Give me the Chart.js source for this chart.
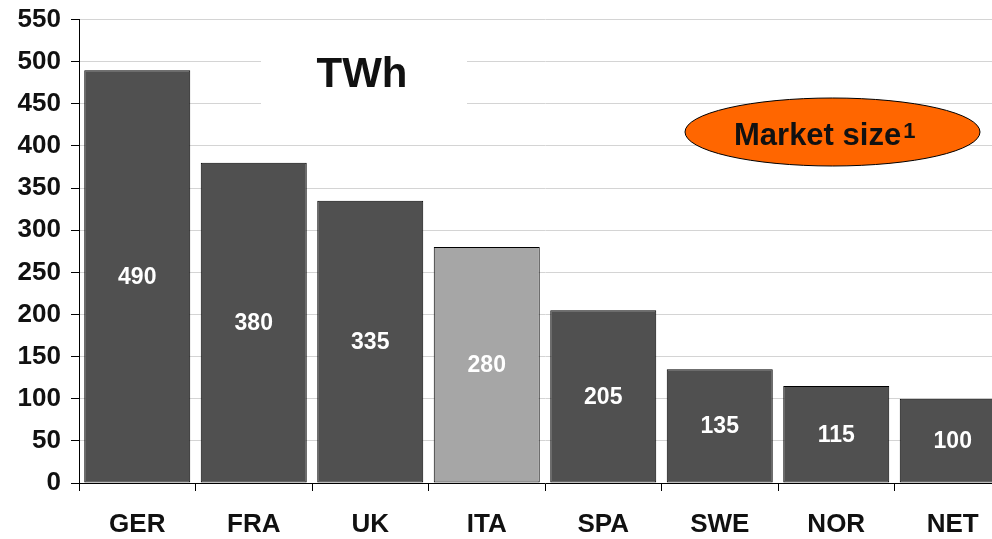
<!DOCTYPE html>
<html>
<head>
<meta charset="utf-8">
<script src="https://cdn.jsdelivr.net/npm/chart.js@4/dist/chart.umd.min.js"></script>
<style>
  html, body { margin: 0; padding: 0; background: #fff; overflow: hidden; }
  #wrap { width: 992px; height: 539px; overflow: hidden; position: relative; }
  canvas { display: block; margin-top: -6px; }
</style>
</head>
<body>
<div id="wrap"><canvas id="c" width="1012" height="545"></canvas></div>
<script>
// Electricity market size by country, TWh
const countries = ['GER', 'FRA', 'UK', 'ITA', 'SPA', 'SWE', 'NOR', 'NET'];
const marketTWh = [490, 380, 335, 280, 205, 135, 115, 100];
const highlighted = 'ITA';

const FONT = '"Liberation Sans", Arial, sans-serif';
const barFill = countries.map(c => c === highlighted ? '#a6a6a6' : '#505050');
const OY = 6; // canvas sits 6px above the visible frame

// White value labels centred in each bar
const valueLabels = {
  id: 'valueLabels',
  afterDatasetsDraw(chart) {
    const ctx = chart.ctx;
    const meta = chart.getDatasetMeta(0);
    ctx.save();
    ctx.fillStyle = '#ffffff';
    ctx.font = 'bold 23px ' + FONT;
    ctx.textAlign = 'center';
    ctx.textBaseline = 'middle';
    meta.data.forEach((bar, i) => {
      const v = chart.data.datasets[0].data[i];
      ctx.fillText(String(v), bar.x, (bar.y + bar.base) / 2 + 1);
    });
    ctx.restore();
  }
};

// Unit caption and the "Market size" badge
const annotations = {
  id: 'annotations',
  beforeDatasetsDraw(chart) {
    const ctx = chart.ctx;
    ctx.save();
    ctx.fillStyle = '#ffffff';
    ctx.fillRect(261, 27 + OY, 206, 88);
    ctx.restore();
  },
  afterDatasetsDraw(chart) {
    const ctx = chart.ctx;
    ctx.save();
    ctx.fillStyle = '#111111';
    ctx.font = 'bold 42px ' + FONT;
    ctx.textAlign = 'center';
    ctx.textBaseline = 'alphabetic';
    ctx.fillText('TWh', 362, 87 + OY);

    ctx.beginPath();
    ctx.ellipse(832.5, 132 + OY, 147.5, 34, 0, 0, Math.PI * 2);
    ctx.fillStyle = '#ff6600';
    ctx.fill();
    ctx.lineWidth = 1;
    ctx.strokeStyle = '#000000';
    ctx.stroke();

    ctx.fillStyle = '#111111';
    ctx.textAlign = 'left';
    ctx.font = 'bold 31px ' + FONT;
    const main = 'Market size';
    ctx.fillText(main, 734, 145 + OY);
    const w = ctx.measureText(main).width;
    ctx.font = 'bold 22px ' + FONT;
    ctx.fillText('1', 734 + w + 2, 138 + OY);
    ctx.restore();
  }
};

new Chart(document.getElementById('c'), {
  type: 'bar',
  data: {
    labels: countries,
    datasets: [{
      data: marketTWh,
      backgroundColor: barFill,
      borderColor: '#000000',
      borderWidth: 1,
      borderSkipped: false,
      barPercentage: 0.91,
      categoryPercentage: 1
    }]
  },
  options: {
    responsive: false,
    devicePixelRatio: 1,
    animation: false,
    layout: { padding: { top: 13, right: 1, left: 0, bottom: 0 } },
    plugins: { legend: { display: false }, tooltip: { enabled: false } },
    scales: {
      x: {
        afterFit(s) { s.height = 56; },
        border: { color: '#000000', width: 1 },
        grid: { drawOnChartArea: false, drawTicks: true, tickLength: 8, tickColor: '#000000', offset: true },
        ticks: { color: '#111111', font: { family: FONT, size: 26, weight: 'bold' }, padding: 18 }
      },
      y: {
        min: 0, max: 550,
        afterFit(s) { s.width = 79; },
        border: { color: '#000000', width: 1 },
        grid: { color: '#d4d4d4', lineWidth: 1, drawTicks: true, tickLength: 8, tickColor: '#000000' },
        ticks: { stepSize: 50, color: '#111111', font: { family: FONT, size: 26, weight: 'bold' }, padding: 10 }
      }
    }
  },
  plugins: [annotations, valueLabels]
});
</script>
</body>
</html>
